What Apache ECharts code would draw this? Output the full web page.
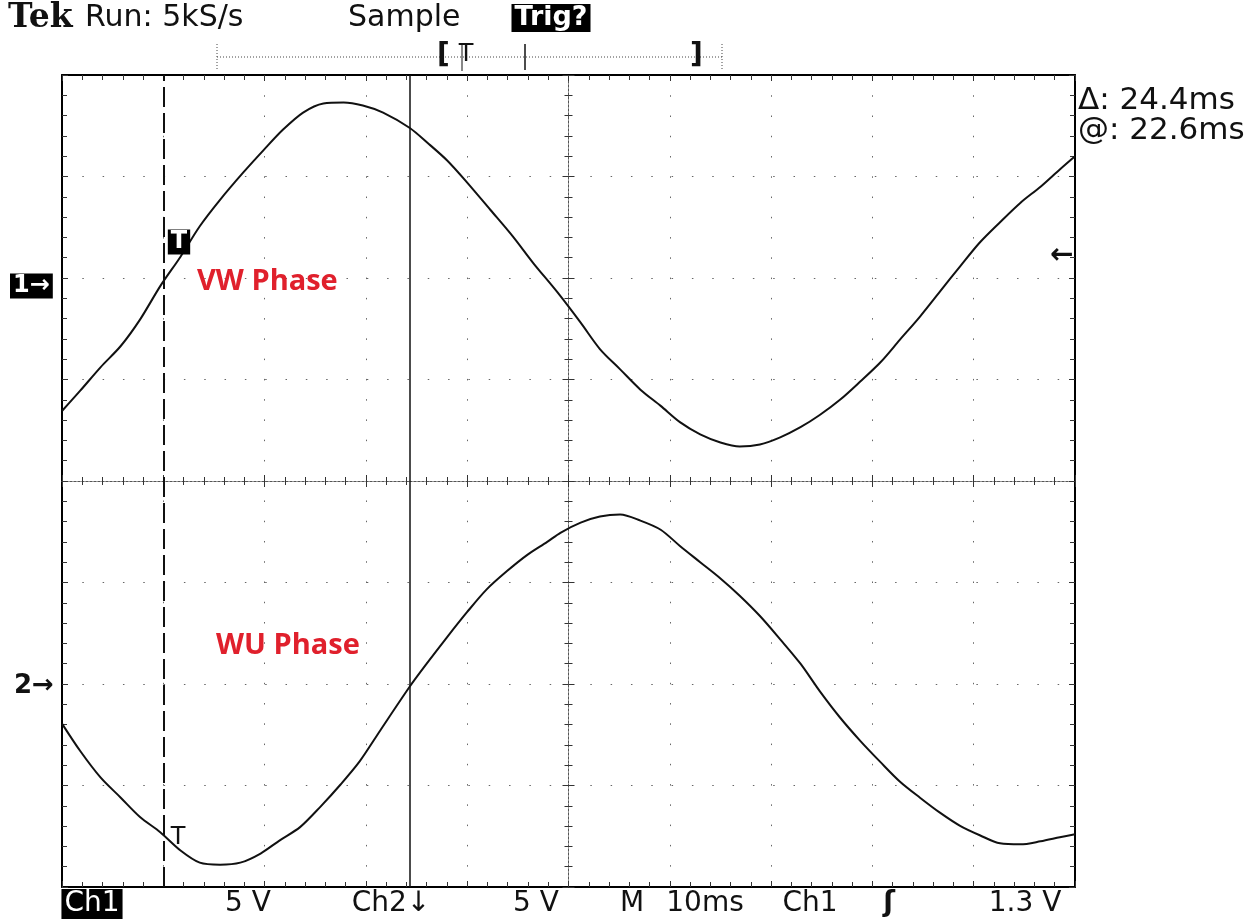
<!DOCTYPE html>
<html>
<head>
<meta charset="utf-8">
<script src="https://cdn.jsdelivr.net/npm/echarts@6/dist/echarts.min.js"></script>
<style>
html,body{margin:0;padding:0;background:#fff;}
#c{width:1248px;height:919px;}
</style>
</head>
<body>
<div id="c"></div>
<script>
// Time in ms (10 ms/div, 10 divisions), amplitude in screen divisions (5 V/div)
const ch1T = [0,1.8,3.8,5.8,7.7,9.7,11.7,13.6,15.6,17.9,19.9,21.8,23.8,25.8,27.8,29.7,31.7,34.3,36.1,38.0,40.0,42.3,44.5,46.5,48.9,51.2,53.1,55.1,57.1,59.1,61.0,63.0,65.0,66.9,68.9,70.9,72.9,74.8,76.8,78.8,80.8,82.7,84.7,86.7,88.7,90.6,92.6,94.6,96.6,98.5,100];
const ch1V = [0.69,0.89,1.12,1.33,1.59,1.92,2.21,2.51,2.77,3.04,3.26,3.46,3.63,3.72,3.73,3.70,3.63,3.48,3.33,3.16,2.94,2.67,2.41,2.15,1.86,1.56,1.30,1.10,0.90,0.74,0.58,0.46,0.38,0.34,0.36,0.43,0.53,0.65,0.80,0.98,1.17,1.39,1.62,1.87,2.12,2.35,2.55,2.74,2.90,3.07,3.20];
const ch2T = [0,1.8,3.8,5.8,7.7,9.7,11.7,13.6,15.6,17.6,19.6,21.5,23.5,25.5,27.5,29.4,31.4,34.3,36.0,38.0,40.0,41.9,43.9,45.9,47.9,49.2,51.2,53.1,55.1,57.1,59.1,61.0,63.0,65.0,66.9,68.9,70.9,72.9,74.8,76.8,78.8,80.8,82.7,84.7,86.7,88.7,90.6,92.6,94.6,96.6,98.5,100];
const ch2V = [-2.39,-2.66,-2.92,-3.12,-3.31,-3.46,-3.64,-3.76,-3.78,-3.76,-3.67,-3.54,-3.41,-3.21,-2.99,-2.76,-2.46,-2.03,-1.80,-1.54,-1.29,-1.07,-0.89,-0.73,-0.60,-0.51,-0.41,-0.35,-0.33,-0.39,-0.48,-0.64,-0.80,-0.96,-1.13,-1.33,-1.56,-1.80,-2.07,-2.33,-2.56,-2.77,-2.96,-3.12,-3.27,-3.40,-3.49,-3.57,-3.58,-3.55,-3.51,-3.48];
const cursorTimes = [10, 34.3];
const seriesNames = ['VW Phase', 'WU Phase'];
const topTexts = ['Tek', 'Run: 5kS/s', 'Sample', 'Trig?'];
const bottomTexts = ['Ch1', '5 V', 'Ch2\u2193', '5 V', 'M', '10ms', 'Ch1', '\u0283', '1.3 V'];
const readouts = ['\u0394: 24.4ms', '@: 22.6ms'];

const ch1 = ch1T.map((t, i) => [t, ch1V[i]]);
const ch2 = ch2T.map((t, i) => [t, ch2V[i]]);

const FONT = '"DejaVu Sans", "Noto Sans", sans-serif';
const chart = echarts.init(document.getElementById('c'), null, {renderer: 'canvas'});

const frameAxis = (pos, split) => ({
  type: 'value', position: pos, min: 0, max: 100, interval: 10,
  axisLine: {show: true, onZero: false, lineStyle: {color: '#000', width: 2}},
  axisTick: {show: true, inside: true, length: 6, lineStyle: {color: '#333', width: 1}},
  minorTick: {show: true, splitNumber: 5, length: 5, lineStyle: {color: '#333', width: 1}},
  axisLabel: {show: false},
  splitLine: {show: split, lineStyle: {color: '#666', width: 1, type: [1.5, 18.76]}},
  minorSplitLine: {show: false}
});
const frameYAxis = (pos, split) => ({
  type: 'value', position: pos, min: -4, max: 4, interval: 1,
  axisLine: {show: true, onZero: false, lineStyle: {color: '#000', width: 2}},
  axisTick: {show: true, inside: true, length: 6, lineStyle: {color: '#333', width: 1}},
  minorTick: {show: true, splitNumber: 5, length: 5, lineStyle: {color: '#333', width: 1}},
  axisLabel: {show: false},
  splitLine: {show: split, lineStyle: {color: '#666', width: 1, type: [1.5, 18.82]}},
  minorSplitLine: {show: false}
});
const centerX = (inside) => ({
  type: 'value', position: 'bottom', min: 0, max: 100, interval: 10,
  axisLine: {show: true, onZero: true, onZeroAxisIndex: 0, lineStyle: {color: '#555', width: 1, type: [2, 2]}},
  axisTick: {show: true, inside: inside, length: 6, lineStyle: {color: '#333'}},
  minorTick: {show: true, splitNumber: 5, length: 4, lineStyle: {color: '#333'}},
  axisLabel: {show: false}, splitLine: {show: false}
});
const centerY = (inside) => ({
  type: 'value', position: 'left', min: -4, max: 4, interval: 1,
  axisLine: {show: true, onZero: true, onZeroAxisIndex: 4, lineStyle: {color: '#555', width: 1, type: [2, 2]}},
  axisTick: {show: true, inside: inside, length: 6, lineStyle: {color: '#333'}},
  minorTick: {show: true, splitNumber: 5, length: 4, lineStyle: {color: '#333'}},
  axisLabel: {show: false}, splitLine: {show: false}
});

function txt(text, x, y, size, opts) {
  return {
    type: 'text', z: 100,
    style: Object.assign({
      text: text, x: x, y: y, font: (opts && opts.weight ? opts.weight + ' ' : '') + size + 'px ' + (opts && opts.family ? opts.family : FONT),
      fill: '#111', textAlign: 'left', textVerticalAlign: 'middle'
    }, opts && opts.style ? opts.style : {})
  };
}
function line(x1, y1, x2, y2, style) {
  return {type: 'line', z: 100, shape: {x1: x1, y1: y1, x2: x2, y2: y2}, style: Object.assign({stroke: '#222', lineWidth: 1}, style || {})};
}
const box = {backgroundColor: '#000', fill: '#fff', padding: [1, 3, 0, 3]};
const RED = '#e0202c';
const LABELFONT = '"Open Sans", "Noto Sans", sans-serif';

const graphics = [
  // top status line
  txt(topTexts[0], 8, 18, 33, {weight: 'bold', family: '"DejaVu Serif", serif', style: {fill: '#111'}}),
  txt(topTexts[1], 85, 18, 30),
  txt(topTexts[2], 348, 18, 30),
  txt(topTexts[3], 551, 18, 27, {weight: 'bold', style: Object.assign({textAlign: 'center'}, box)}),
  // record-length bar
  line(217, 57, 722, 57, {lineDash: [1, 2], stroke: '#444'}),
  line(217, 44, 217, 71, {lineDash: [1, 2], stroke: '#444'}),
  line(722, 44, 722, 71, {lineDash: [1, 2], stroke: '#444'}),
  line(525, 44, 525, 70, {stroke: '#111', lineWidth: 1.5}),
  line(462, 45, 462, 71, {stroke: '#111', lineWidth: 1}),
  txt('[', 437, 56, 28, {weight: 'bold'}),
  txt('T', 466, 55, 24, {style: {textAlign: 'center'}}),
  txt(']', 690, 56, 28, {weight: 'bold'}),
  // readouts on right
  txt(readouts[0], 1078, 101, 31),
  txt(readouts[1], 1078, 131, 31),
  // channel ground markers
  txt('1\u2192', 10, 286, 24, {weight: 'bold', style: box}),
  txt('2\u2192', 14, 686, 26, {weight: 'bold'}),
  txt('\u2190', 1050, 256, 28, {weight: 'bold'}),
  // trigger markers
  txt('T', 179, 242, 24, {weight: 'bold', style: Object.assign({textAlign: 'center'}, box)}),
  txt('T', 178, 838, 24, {style: {textAlign: 'center'}}),
  // phase labels
  txt(seriesNames[0], 197, 282, 29, {weight: 'bold', family: LABELFONT, style: {fill: RED}}),
  txt(seriesNames[1], 216, 646, 29, {weight: 'bold', family: LABELFONT, style: {fill: RED}}),
  // bottom status line
  txt(bottomTexts[0], 92, 904, 28, {style: Object.assign({textAlign: 'center'}, box, {padding: [2, 3, 0, 3]})}),
  txt(bottomTexts[1], 248, 904, 28, {style: {textAlign: 'center'}}),
  txt(bottomTexts[2], 391, 904, 28, {style: {textAlign: 'center'}}),
  txt(bottomTexts[3], 536, 904, 28, {style: {textAlign: 'center'}}),
  txt(bottomTexts[4], 632, 904, 28, {style: {textAlign: 'center'}}),
  txt(bottomTexts[5], 705, 904, 28, {style: {textAlign: 'center'}}),
  txt(bottomTexts[6], 810, 904, 28, {style: {textAlign: 'center'}}),
  txt(bottomTexts[7], 889, 904, 28, {weight: 'bold', style: {textAlign: 'center'}}),
  txt(bottomTexts[8], 1025, 904, 28, {style: {textAlign: 'center'}})
];

chart.setOption({
  animation: false,
  backgroundColor: '#fff',
  grid: {left: 62, top: 75, width: 1013, height: 812, containLabel: false},
  xAxis: [
    frameAxis('bottom', true),
    frameAxis('top', false),
    centerX(true),
    centerX(false),
    {type: 'value', position: 'top', min: -50, max: 50, show: false}
  ],
  yAxis: [
    frameYAxis('left', true),
    frameYAxis('right', false),
    centerY(true),
    centerY(false)
  ],
  series: [
    {
      name: seriesNames[0], type: 'line', xAxisIndex: 0, yAxisIndex: 0, data: ch1,
      showSymbol: false, smooth: 0.3, lineStyle: {color: '#111', width: 2}, z: 10,
      markLine: {
        silent: true, symbol: ['none', 'none'], label: {show: false},
        data: [
          {xAxis: cursorTimes[0], lineStyle: {color: '#111', width: 2, type: [20, 6]}},
          {xAxis: cursorTimes[1], lineStyle: {color: '#111', width: 1.5, type: 'solid'}}
        ]
      }
    },
    {
      name: seriesNames[1], type: 'line', xAxisIndex: 0, yAxisIndex: 0, data: ch2,
      showSymbol: false, smooth: 0.3, lineStyle: {color: '#111', width: 2}, z: 10
    }
  ],
  graphic: graphics
});
</script>
</body>
</html>
